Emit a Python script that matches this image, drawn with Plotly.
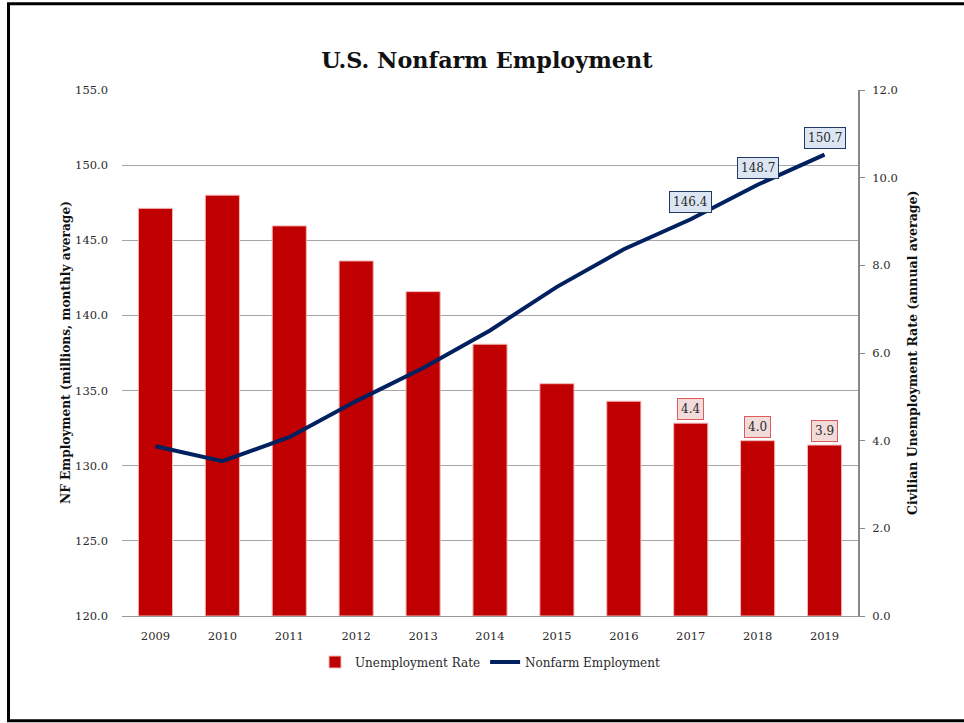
import plotly.graph_objects as go

# ---- data ----
years = ["2009", "2010", "2011", "2012", "2013", "2014", "2015", "2016", "2017", "2018", "2019"]
unemployment_rate = [9.3, 9.6, 8.9, 8.1, 7.4, 6.2, 5.3, 4.9, 4.4, 4.0, 3.9]
nonfarm_employment = [131.3, 130.3, 131.9, 134.3, 136.5, 139.0, 141.9, 144.4, 146.4, 148.7, 150.7]
labelled_years = ["2017", "2018", "2019"]

# ---- layout geometry (pixels) ----
W, H = 964, 723
PL, PR, PT, PB = 122, 858, 90, 616
SERIF = "DejaVu Serif"
TXT = "#2a2a2a"
RED = "#C00000"
NAVY = "#002060"


def px(x):
    return (x - PL) / (PR - PL)


def py(y):
    return (PB - y) / (PB - PT)


fig = go.Figure()

fig.add_trace(go.Bar(
    x=years, y=unemployment_rate, name="Unemployment Rate",
    marker=dict(color=RED, line=dict(color="#F2B8B8", width=1)),
    yaxis="y",
))
fig.add_trace(go.Scatter(
    x=years, y=nonfarm_employment, name="Nonfarm Employment",
    mode="lines", line=dict(color=NAVY, width=4),
    yaxis="y2",
))

annotations = []
# value boxes for the latest years (category index used as x position)
for i, (yr, val) in enumerate(zip(years, nonfarm_employment)):
    if yr in labelled_years:
        annotations.append(dict(
            x=i, y=val, xref="x", yref="y2", text=f"{val:.1f}", showarrow=False,
            yshift=17, font=dict(family=SERIF, size=12, color=TXT),
            bgcolor="#DCE6F2", bordercolor="#1F3864", borderwidth=1, borderpad=3,
        ))
for i, (yr, val) in enumerate(zip(years, unemployment_rate)):
    if yr in labelled_years:
        annotations.append(dict(
            x=i, y=val, xref="x", yref="y", text=f"{val:.1f}", showarrow=False,
            yshift=14, font=dict(family=SERIF, size=12, color=TXT),
            bgcolor="#F2DCDB", bordercolor="#E05A5A", borderwidth=1, borderpad=3,
        ))

# axis titles
annotations.append(dict(
    x=px(66), y=py(353), xref="paper", yref="paper", showarrow=False, textangle=-90,
    text="<b>NF Employment (millions, monthly average)</b>",
    font=dict(family=SERIF, size=12.2, color="#111"), xanchor="center", yanchor="middle",
))
annotations.append(dict(
    x=px(912), y=py(353), xref="paper", yref="paper", showarrow=False, textangle=-90,
    text="<b>Civilian Unemployment Rate (annual average)</b>",
    font=dict(family=SERIF, size=12.5, color="#111"), xanchor="center", yanchor="middle",
))

fig.update_layout(
    width=W, height=H,
    margin=dict(l=PL, r=W - PR, t=PT, b=H - PB, autoexpand=False),
    paper_bgcolor="white", plot_bgcolor="white",
    font=dict(family=SERIF, size=11, color=TXT),
    title=dict(text="<b>U.S. Nonfarm Employment</b>", x=0.505, xanchor="center",
               y=1 - 60 / H, yanchor="middle",
               font=dict(family=SERIF, size=22.3, color="#111")),
    bargap=0.49,
    showlegend=True,
    legend=dict(orientation="h", x=0.5, xanchor="center", y=py(662), yanchor="middle",
                font=dict(family=SERIF, size=12, color=TXT), itemwidth=30,
                traceorder="normal", bgcolor="rgba(0,0,0,0)"),
    xaxis=dict(type="category", categoryorder="array", categoryarray=years,
               range=[-0.5, len(years) - 0.5], autorange=False,
               showline=True, linecolor="#999", linewidth=1,
               ticks="", showgrid=False, ticklabelstandoff=9,
               tickfont=dict(family=SERIF, size=11.5, color=TXT)),
    yaxis=dict(side="right", range=[0, 12], dtick=2, tickformat=".1f",
               showgrid=False, showline=True, linecolor="#888", linewidth=2,
               ticks="outside", ticklen=5, tickcolor="#888", zeroline=False,
               ticklabelstandoff=5,
               tickfont=dict(family=SERIF, size=11.5, color=TXT)),
    yaxis2=dict(overlaying="y", side="left", range=[120, 155], dtick=5, tickformat=".1f",
                showgrid=True, gridcolor="#A6A6A6", gridwidth=1, showline=False,
                ticks="", zeroline=False, ticklabelstandoff=13,
                tickfont=dict(family=SERIF, size=11.5, color=TXT)),
    annotations=annotations,
    shapes=[dict(type="rect", xref="paper", yref="paper",
                 x0=px(8.5), x1=px(975), y0=py(720.8), y1=py(3.8),
                 line=dict(color="black", width=3), fillcolor="rgba(0,0,0,0)", layer="above")],
)

fig.write_html("out.html")
